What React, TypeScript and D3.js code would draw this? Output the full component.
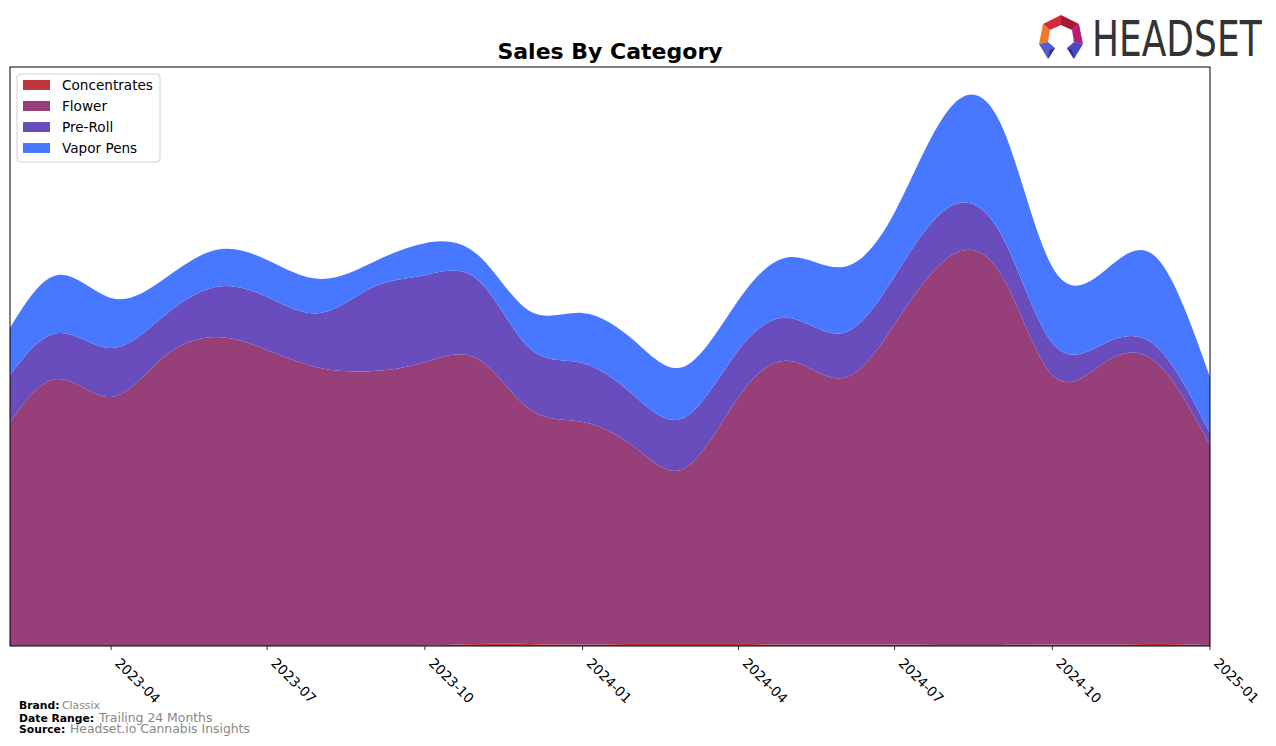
import React from "react";
import * as d3 from "d3";

const months = [
  "2023-02", "2023-03", "2023-04", "2023-05", "2023-06", "2023-07", "2023-08", "2023-09",
  "2023-10", "2023-11", "2023-12", "2024-01", "2024-02", "2024-03", "2024-04", "2024-05",
  "2024-06", "2024-07", "2024-08", "2024-09", "2024-10", "2024-11", "2024-12", "2025-01",
];
const concentrates = [0, 0, 0, 0, 0, 0, 0, 0, 0.3, 2, 2, 1.5, 2, 2, 2, 1.5, 1.5, 1.5, 1, 1, 1.5, 1.5, 2, 1];
const flower = [224, 267, 249, 288, 309, 296, 278, 275, 283.5, 285, 235, 222.5, 196, 176, 247, 283.5, 266.5, 320, 387, 371, 269.5, 282.5, 281, 200];
const preRoll = [47, 46, 49, 41, 50, 53, 55, 84, 87, 79, 61, 59, 51, 51, 47, 43, 45, 48, 50, 40, 32, 19, 16, 12];
const vaporPens = [47, 58, 50, 37, 37, 37, 34, 25, 32, 25, 37, 50, 55, 51, 50, 61, 66, 64, 97, 110, 76, 73, 89, 56];

const categories = ["Concentrates", "Flower", "Pre-Roll", "Vapor Pens"];
const categoryColors = ["#c0353a", "#963f78", "#6a4dbc", "#4878ff"];
const Y_MAX = 579;

const W = 1276;
const H = 746;
const M = { left: 10, right: 1210, top: 67, bottom: 646 };
const FONT = "DejaVu Sans, Verdana, sans-serif";

export default function App() {
  const parse = d3.utcParse("%Y-%m");
  const dates = months.map((m) => parse(m) as Date);
  const x = d3.scaleUtc().domain([dates[0], dates[dates.length - 1]]).range([M.left, M.right]);
  const y = d3.scaleLinear().domain([0, Y_MAX]).range([M.bottom, M.top]);

  const series = [concentrates, flower, preRoll, vaporPens];
  const rows = months.map((_, i) => {
    const r: any = { date: dates[i] };
    categories.forEach((c, k) => (r[c] = series[k][i]));
    return r;
  });
  const stacked = d3.stack<any>().keys(categories)(rows);
  const area = d3
    .area<any>()
    .x((d) => x(d.data.date))
    .y0((d) => y(d[0]))
    .y1((d) => y(d[1]))
    .curve(d3.curveNatural);

  const ticks = x.ticks(d3.utcMonth.every(3) as any);
  const fmt = d3.utcFormat("%Y-%m");

  return (
    <svg
      width={W}
      height={H}
      style={{ position: "absolute", left: 0, top: 0, background: "#fff" }}
      fontFamily={FONT}
    >
      <defs>
        <clipPath id="plotClip">
          <rect x={M.left} y={M.top} width={M.right - M.left} height={M.bottom - M.top} />
        </clipPath>
      </defs>
      <rect x={0} y={0} width={W} height={H} fill="#fff" />

      <g clipPath="url(#plotClip)">
        {stacked.map((s, i) => (
          <path key={categories[i]} d={area(s as any) || ""} fill={categoryColors[i]} stroke="none" />
        ))}
      </g>

      <rect
        x={M.left}
        y={M.top}
        width={M.right - M.left}
        height={M.bottom - M.top}
        fill="none"
        stroke="#000"
        strokeWidth={1}
      />

      {ticks.map((t) => {
        const tx = x(t);
        return (
          <g key={fmt(t)}>
            <line x1={tx} x2={tx} y1={M.bottom} y2={M.bottom + 4} stroke="#000" strokeWidth={0.8} />
            <text
              transform={`translate(${tx + 10},${M.bottom + 11}) rotate(45)`}
              fontSize={13.6}
              dy="0.72em"
              textAnchor="start"
              fill="#000"
            >
              {fmt(t)}
            </text>
          </g>
        );
      })}

      <text x={(M.left + M.right) / 2} y={59} textAnchor="middle" fontSize={22} fontWeight="bold" fill="#000">
        Sales By Category
      </text>

      <g>
        <rect x={17} y={74} width={143} height={88} rx={3} fill="#fff" fillOpacity={0.8} stroke="#d0d0d0" />
        {categories.map((c, i) => (
          <g key={c}>
            <rect x={23} y={80 + i * 21} width={27} height={10} fill={categoryColors[i]} />
            <text x={62} y={89.5 + i * 21} fontSize={13.6} fill="#000">
              {c}
            </text>
          </g>
        ))}
      </g>

      <g>
        <text x={19} y={708.5} fontSize={10.8} fontWeight="bold" fill="#000">Brand:</text>
        <text x={62} y={708.5} fontSize={10.8} fill="#888">Classix</text>
        <text x={19} y={721.5} fontSize={10.8} fontWeight="bold" fill="#000">Date Range:</text>
        <text x={99} y={721.5} fontSize={12.4} fill="#888">Trailing 24 Months</text>
        <text x={19} y={733} fontSize={10.8} fontWeight="bold" fill="#000">Source:</text>
        <text x={70} y={733} fontSize={12.4} fill="#888">Headset.io Cannabis Insights</text>
      </g>

      <g>
        <polygon points="1043,24 1061,15 1061,25 1050,30" fill="#d42a3c" />
        <polygon points="1061,15 1079,24 1072,30 1061,25" fill="#a8183a" />
        <polygon points="1079,24 1083,44 1074,42 1072,30" fill="#b81c78" />
        <polygon points="1043,24 1050,30 1048,42 1039,44" fill="#f07a28" />
        <polygon points="1039,44 1048,42 1055,48 1048,59" fill="#5a5ad0" />
        <polygon points="1048,59 1055,48 1050,50" fill="#2c2c8c" />
        <polygon points="1083,44 1074,42 1067,48 1074,59" fill="#4a4ac0" />
        <polygon points="1074,59 1067,48 1072,50" fill="#2c2c8c" />
        <text
          transform="translate(1092,56) scale(0.8,1)"
          fontSize={50}
          fontFamily="Liberation Sans Narrow, DejaVu Sans Condensed, Roboto, sans-serif"
          fill="#333"
          textLength={212}
          lengthAdjust="spacingAndGlyphs"
        >
          HEADSET
        </text>
      </g>
    </svg>
  );
}
